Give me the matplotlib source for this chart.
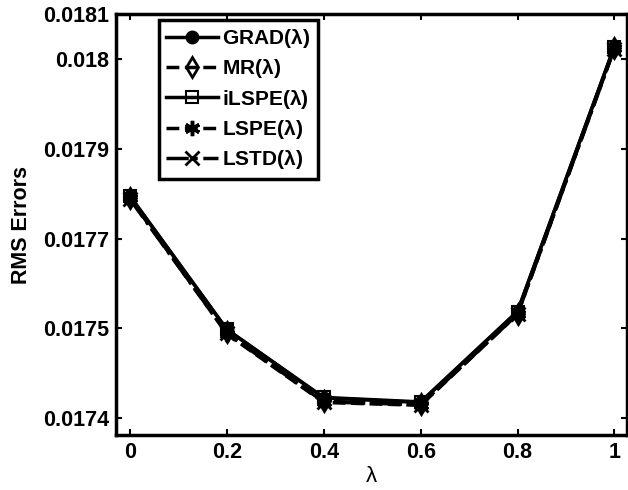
import matplotlib.pyplot as plt

lam = [0, 0.2, 0.4, 0.6, 0.8, 1.0]
grad = [0.017775, 0.017538, 0.017416, 0.017408, 0.017570, 0.018042]
mr = [0.017772, 0.017533, 0.017410, 0.017405, 0.017566, 0.018040]
ilspe = [0.017776, 0.017538, 0.017417, 0.017409, 0.017570, 0.018042]
lspe = [0.017772, 0.017530, 0.017408, 0.017403, 0.017565, 0.018039]
lstd = [0.017770, 0.017531, 0.017409, 0.017404, 0.017565, 0.018038]

yticks = [0.01738, 0.01754, 0.01770, 0.01786, 0.01802, 0.01810]
ytick_labels = ['0.0174', '0.0175', '0.0177', '0.0179', '0.018', '0.0181']
xticks = [0, 0.2, 0.4, 0.6, 0.8, 1]
xtick_labels = ['0', '0.2', '0.4', '0.6', '0.8', '1']

plt.rcParams['font.family'] = ['Liberation Sans', 'DejaVu Sans']
plt.rcParams['mathtext.default'] = 'regular'

fig = plt.figure(figsize=(6.28, 4.9), dpi=100)
ax = fig.add_axes([0.1847, 0.1122, 0.8143, 0.8592])

ax.plot(lam, grad, 'k-', marker='o', ms=9, lw=2.5, mfc='k', label='GRAD($\\lambda$)')
ax.plot(lam, mr, 'k--', marker='d', ms=10, lw=2.5, mfc='none', mew=2, label='MR($\\lambda$)')
ax.plot(lam, ilspe, 'k-', marker='s', ms=8, lw=2.5, mfc='none', mew=1.5, label='iLSPE($\\lambda$)')
ax.plot(lam, lspe, 'k--', marker=(6, 2, 0), ms=11, lw=2.5, mew=2.5, label='LSPE($\\lambda$)')
ax.plot(lam, lstd, 'k-.', marker='x', ms=10, lw=2.5, mew=2, label='LSTD($\\lambda$)')

ax.set_xlim(-0.0289, 1.0268)
ax.set_ylim(0.017350, 0.018100)
ax.set_xticks(xticks)
ax.set_xticklabels(xtick_labels, fontsize=15.5, fontweight='bold')
ax.set_yticks(yticks)
ax.set_yticklabels(ytick_labels, fontsize=15.5, fontweight='bold')
ax.tick_params(direction='in', length=4, width=1.5, top=True, right=True, pad=5)
for s in ax.spines.values():
    s.set_linewidth(2.5)

ax.set_xlabel('$\\lambda$', fontsize=16, labelpad=2)
ax.set_ylabel('RMS Errors', fontsize=15.5, fontweight='bold', labelpad=8)

leg = ax.legend(loc='upper left', bbox_to_anchor=(0.084, 0.986), fancybox=False,
                framealpha=1, edgecolor='k', handlelength=2.5, borderpad=0.35,
                labelspacing=0.35, handletextpad=0.2, borderaxespad=0,
                prop={'weight': 'bold', 'size': 15})
leg.get_frame().set_linewidth(2.5)

fig.savefig('out.png', dpi=100)
